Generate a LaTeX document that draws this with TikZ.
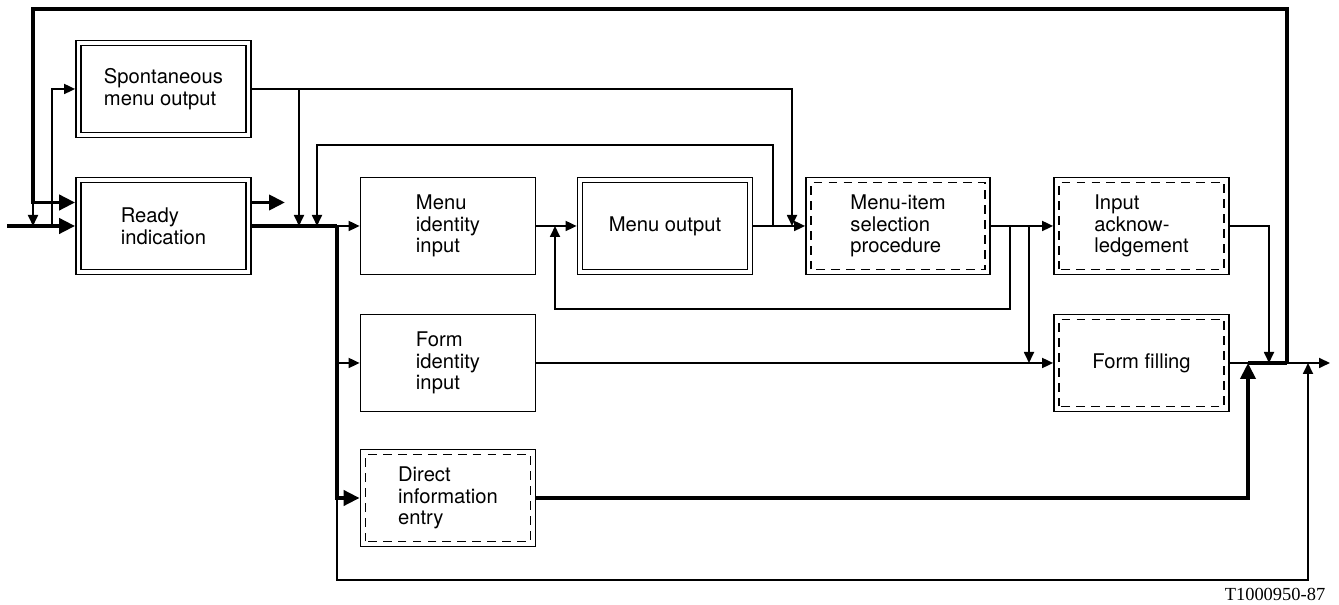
\documentclass[tikz,border=0pt]{standalone}
\usepackage{fontspec}
\setmainfont{TeX Gyre Heros}
\newfontfamily\tagfont{Liberation Serif}
\usetikzlibrary{arrows.meta}

\tikzset{
  blk/.style={draw,line width=1pt,minimum width=3.5cm,minimum height=1.94cm,
    align=left,inner sep=0pt,font=\fontsize{11.5}{12.3}\selectfont},
  dbl/.style={blk,path picture={\draw[line width=1pt]
    ([shift={(.1,.1)}]path picture bounding box.south west) rectangle
    ([shift={(-.1,-.1)}]path picture bounding box.north east);}},
  dsh/.style={blk,path picture={\draw[line width=1pt,dash pattern=on 5pt off 3.5pt]
    ([shift={(.1,.1)}]path picture bounding box.south west) rectangle
    ([shift={(-.1,-.1)}]path picture bounding box.north east);}},
  wire/.style={line width=1pt,-{Triangle[length=2.2mm,width=2mm]}},
  bus/.style={line width=2.2pt,-{Triangle[length=3.2mm,width=3mm]}},
  fat/.style={line width=2.2pt}
}

\begin{document}
\begin{tikzpicture}
\useasboundingbox (0,0) rectangle (26.78,12.1);
\node[dbl] (spont) at (3.27,10.32) {Spontaneous\\menu output};
\node[dbl] (ready) at (3.27,7.58) {Ready\\indication};
\node[blk] (menuid) at (8.96,7.58) {Menu\\identity\\input};
\node[dbl] (menuout) at (13.3,7.58) {Menu output};
\node[dsh,minimum width=3.68cm] (select) at (17.96,7.58) {Menu-item\\selection\\procedure};
\node[dsh] (ack) at (22.83,7.58) {Input\\acknow-\\ledgement};
\node[blk] (formid) at (8.96,4.84) {Form\\identity\\input};
\node[dsh] (form) at (22.83,4.84) {Form filling};
\node[dsh] (direct) at (8.96,2.14) {Direct\\information\\entry};
\node[font=\tagfont\fontsize{10.5}{12}\selectfont] (tag) at (25.5,.22) {T1000950-87};

\coordinate (in) at (.14,7.58);
\coordinate (tl) at (.66,11.92);
\coordinate (rdyin) at ([yshift=.47cm]ready.west);
\coordinate (rdyout) at ([yshift=.47cm]ready.east);
\coordinate (rfree) at (5.7,8.05);
\coordinate (sj) at (1.04,7.58);
\coordinate (sd1) at (5.98,7.58);
\coordinate (md) at (6.34,7.58);
\coordinate (mt) at (6.34,9.2);
\coordinate (busj) at (6.74,7.58);
\coordinate (bl) at (6.74,.5);
\coordinate (fb2) at (11.1,7.58);
\coordinate (fbl) at (11.1,5.92);
\coordinate (mb) at (15.46,7.58);
\coordinate (sd2) at (15.84,7.58);
\coordinate (fb1) at (20.2,7.58);
\coordinate (ff1) at (20.58,7.58);
\coordinate (dj) at (24.96,4.84);
\coordinate (aj) at (25.38,4.84);
\coordinate (rr) at (25.74,4.84);
\coordinate (oj) at (26.16,4.84);
\coordinate (oend) at (26.6,4.84);

\draw[bus] (in) -- (ready.west);
\draw[bus] (rr) |- (tl) |- (rdyin);
\draw[wire] (tl|-rdyin) -- (tl|-in);
\draw[wire] (sj) |- (spont.west);
\draw[bus] (rdyout) -- (rfree);
\draw[fat] (ready.east) -- (busj);
\draw[wire] (busj) -- (menuid.west);
\draw[bus] (busj) |- (direct.west);
\draw[wire] (busj|-formid) -- (formid.west);
\draw[wire] (busj|-direct) -- (bl) -| (oj);
\draw[wire] (spont.east) -| (sd2);
\draw[wire] (sd1|-spont.east) -- (sd1);
\draw[wire] (mb) |- (mt) -- (md);
\draw[wire] (menuid) -- (menuout);
\draw[wire] (menuout) -- (select);
\draw[wire] (select) -- (ack);
\draw[wire] (fb1) |- (fbl) -- (fb2);
\draw[wire] (ff1) -- (ff1|-form.west);
\draw[wire] (formid) -- (form);
\draw[wire] (ack.east) -| (aj);
\draw[wire] (form) -- (oend);
\draw[fat] (dj) -- (rr);
\draw[bus] (direct.east) -| (dj);
\end{tikzpicture}
\end{document}
